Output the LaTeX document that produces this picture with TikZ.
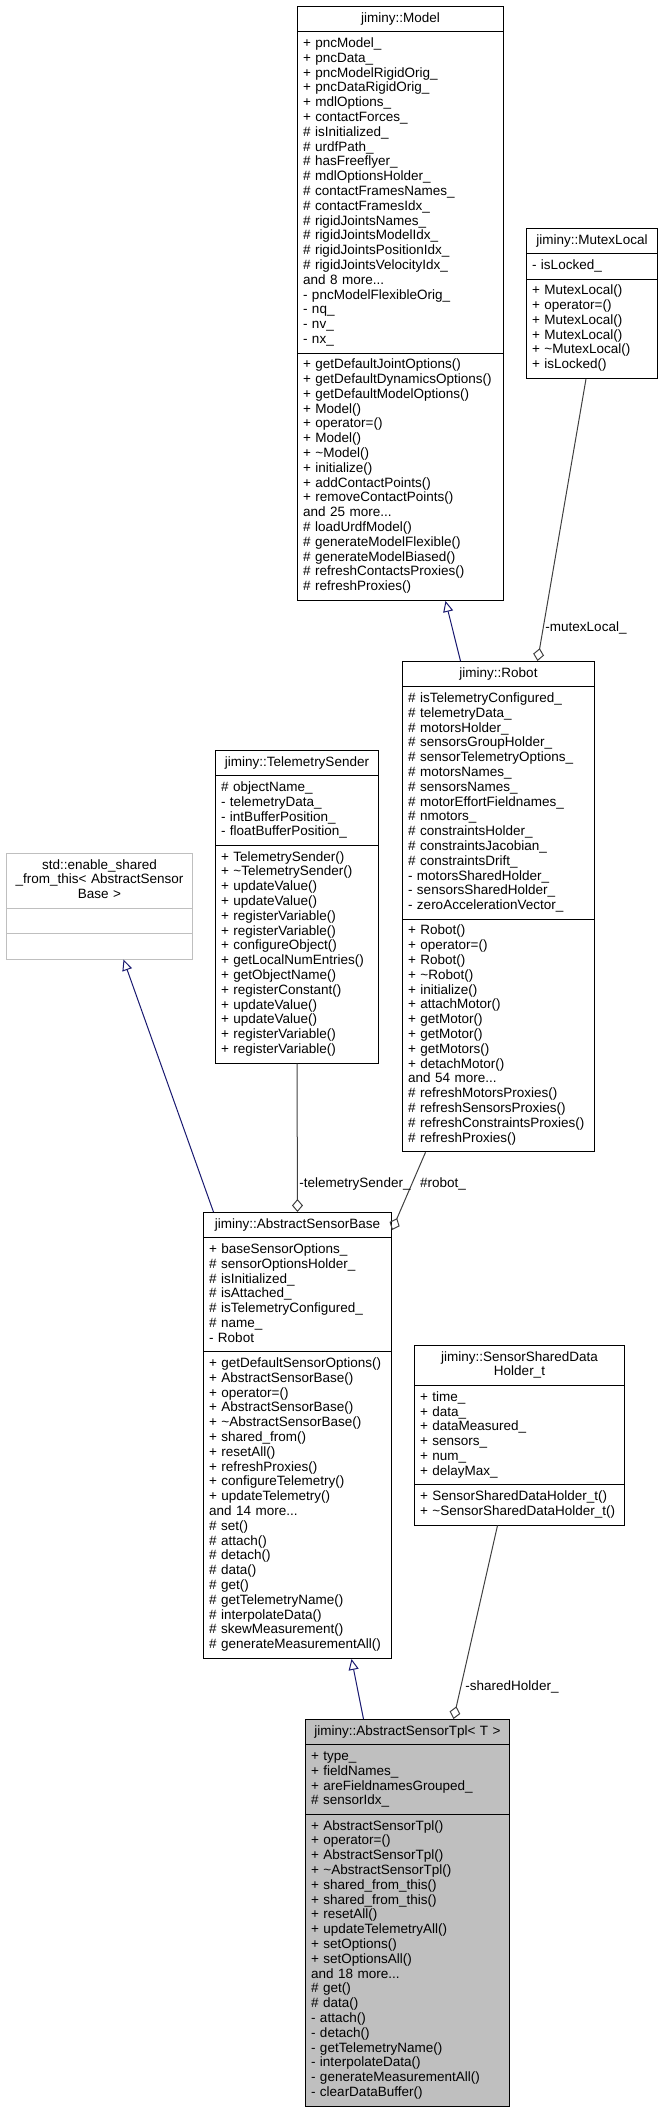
\documentclass[tikz,border=0pt]{standalone}
\usepackage{fontspec}
\setmainfont{Liberation Sans}
\usetikzlibrary{shapes.multipart,arrows.meta,positioning}
\definecolor{navy}{RGB}{25,25,112}
\definecolor{grey25}{RGB}{64,64,64}
\definecolor{grey75}{RGB}{191,191,191}
\hyphenpenalty=10000
\newcommand{\fld}[1]{\strut#1\strut}
\newcommand{\ctr}[1]{\makebox[\hsize]{#1}}
\tikzset{
	cls/.style={draw=black, line width=1pt, rectangle split, rectangle split parts=3, text width=#1, align=left, inner xsep=5.5pt, inner ysep=4.75pt, anchor=north west, font=\fontsize{13.5}{14.8}\selectfont},
	inh/.style={draw=navy, line width=1pt, -{Triangle[open, length=11pt, width=10pt]}},
	agg/.style={draw=grey25, line width=1pt, -{Diamond[open, length=13pt, width=11pt]}},
	lbl/.style={font=\fontsize{13.5}{14.8}\selectfont, inner sep=0pt}
}
\begin{document}
\begin{tikzpicture}[x=1pt,y=-1pt]
			\useasboundingbox (0,0) rectangle (665,2107);
			\node[cls=195pt] (model) at (297,6) {\fld{\ctr{jiminy::Model}}\nodepart{two}\fld{+ pncModel\_\\+ pncData\_\\+ pncModelRigidOrig\_\\+ pncDataRigidOrig\_\\+ mdlOptions\_\\+ contactForces\_\\\# isInitialized\_\\\# urdfPath\_\\\# hasFreeflyer\_\\\# mdlOptionsHolder\_\\\# contactFramesNames\_\\\# contactFramesIdx\_\\\# rigidJointsNames\_\\\# rigidJointsModelIdx\_\\\# rigidJointsPositionIdx\_\\\# rigidJointsVelocityIdx\_\\and 8 more...\\- pncModelFlexibleOrig\_\\- nq\_\\- nv\_\\- nx\_}\nodepart{three}\fld{+ getDefaultJointOptions()\\+ getDefaultDynamicsOptions()\\+ getDefaultModelOptions()\\+ Model()\\+ operator=()\\+ Model()\\+ \textasciitilde Model()\\+ initialize()\\+ addContactPoints()\\+ removeContactPoints()\\and 25 more...\\\# loadUrdfModel()\\\# generateModelFlexible()\\\# generateModelBiased()\\\# refreshContactsProxies()\\\# refreshProxies()}};
			\node[cls=120pt] (mutex) at (526,228) {\fld{\ctr{jiminy::MutexLocal}}\nodepart{two}\fld{- isLocked\_}\nodepart{three}\fld{+ MutexLocal()\\+ operator=()\\+ MutexLocal()\\+ MutexLocal()\\+ \textasciitilde MutexLocal()\\+ isLocked()}};
			\node[cls=175pt, draw=grey75] (enable) at (6,853) {\fld{\ctr{std::enable\_shared}\\\ctr{\_from\_this< AbstractSensor}\\\ctr{Base >}}\nodepart{two}\strut\nodepart{three}\strut};
			\node[cls=181pt] (robot) at (402,661) {\fld{\ctr{jiminy::Robot}}\nodepart{two}\fld{\# isTelemetryConfigured\_\\\# telemetryData\_\\\# motorsHolder\_\\\# sensorsGroupHolder\_\\\# sensorTelemetryOptions\_\\\# motorsNames\_\\\# sensorsNames\_\\\# motorEffortFieldnames\_\\\# nmotors\_\\\# constraintsHolder\_\\\# constraintsJacobian\_\\\# constraintsDrift\_\\- motorsSharedHolder\_\\- sensorsSharedHolder\_\\- zeroAccelerationVector\_}\nodepart{three}\fld{+ Robot()\\+ operator=()\\+ Robot()\\+ \textasciitilde Robot()\\+ initialize()\\+ attachMotor()\\+ getMotor()\\+ getMotor()\\+ getMotors()\\+ detachMotor()\\and 54 more...\\\# refreshMotorsProxies()\\\# refreshSensorsProxies()\\\# refreshConstraintsProxies()\\\# refreshProxies()}};
			\node[cls=152pt] (ts) at (215,750) {\fld{\ctr{jiminy::TelemetrySender}}\nodepart{two}\fld{\# objectName\_\\- telemetryData\_\\- intBufferPosition\_\\- floatBufferPosition\_}\nodepart{three}\fld{+ TelemetrySender()\\+ \textasciitilde TelemetrySender()\\+ updateValue()\\+ updateValue()\\+ registerVariable()\\+ registerVariable()\\+ configureObject()\\+ getLocalNumEntries()\\+ getObjectName()\\+ registerConstant()\\+ updateValue()\\+ updateValue()\\+ registerVariable()\\+ registerVariable()}};
			\node[cls=177pt] (asb) at (203,1212) {\fld{\ctr{jiminy::AbstractSensorBase}}\nodepart{two}\fld{+ baseSensorOptions\_\\\# sensorOptionsHolder\_\\\# isInitialized\_\\\# isAttached\_\\\# isTelemetryConfigured\_\\\# name\_\\- Robot}\nodepart{three}\fld{+ getDefaultSensorOptions()\\+ AbstractSensorBase()\\+ operator=()\\+ AbstractSensorBase()\\+ \textasciitilde AbstractSensorBase()\\+ shared\_from()\\+ resetAll()\\+ refreshProxies()\\+ configureTelemetry()\\+ updateTelemetry()\\and 14 more...\\\# set()\\\# attach()\\\# detach()\\\# data()\\\# get()\\\# getTelemetryName()\\\# interpolateData()\\\# skewMeasurement()\\\# generateMeasurementAll()}};
			\node[cls=199pt] (ssdh) at (414,1345) {\fld{\ctr{jiminy::SensorSharedData}\\\ctr{Holder\_t}}\nodepart{two}\fld{+ time\_\\+ data\_\\+ dataMeasured\_\\+ sensors\_\\+ num\_\\+ delayMax\_}\nodepart{three}\fld{+ SensorSharedDataHolder\_t()\\+ \textasciitilde SensorSharedDataHolder\_t()}};
			\node[cls=193pt, fill=grey75] (tpl) at (305,1719) {\fld{\ctr{jiminy::AbstractSensorTpl< T >}}\nodepart{two}\fld{+ type\_\\+ fieldNames\_\\+ areFieldnamesGrouped\_\\\# sensorIdx\_}\nodepart{three}\fld{+ AbstractSensorTpl()\\+ operator=()\\+ AbstractSensorTpl()\\+ \textasciitilde AbstractSensorTpl()\\+ shared\_from\_this()\\+ shared\_from\_this()\\+ resetAll()\\+ updateTelemetryAll()\\+ setOptions()\\+ setOptionsAll()\\and 18 more...\\\# get()\\\# data()\\- attach()\\- detach()\\- getTelemetryName()\\- interpolateData()\\- generateMeasurementAll()\\- clearDataBuffer()}};
			\draw[inh] ([xshift=-38pt]robot.north) -- ([xshift=45pt]model.south);
			\draw[agg] ([xshift=-6pt]mutex.south) -- ([xshift=39pt]robot.north);
			\draw[inh] ([xshift=-84pt]asb.north) -- ([xshift=24pt]enable.south);
			\draw[agg] (ts.south) -- (asb.north);
			\draw[agg] ([xshift=-73pt]robot.south) -- ([yshift=-18pt]asb.north east);
			\draw[inh] ([xshift=-44pt]tpl.north) -- ([xshift=54pt]asb.south);
			\draw[agg] ([xshift=-22pt]ssdh.south) -- ([xshift=46pt]tpl.north);
			\node[lbl] (lmutex) at (586,628) {-mutexLocal\_};
			\node[lbl] (lts) at (355,1184) {-telemetrySender\_};
			\node[lbl] (lrobot) at (443,1184) {\#robot\_};
			\node[lbl] (lshared) at (512,1687) {-sharedHolder\_};
\end{tikzpicture}
\end{document}
